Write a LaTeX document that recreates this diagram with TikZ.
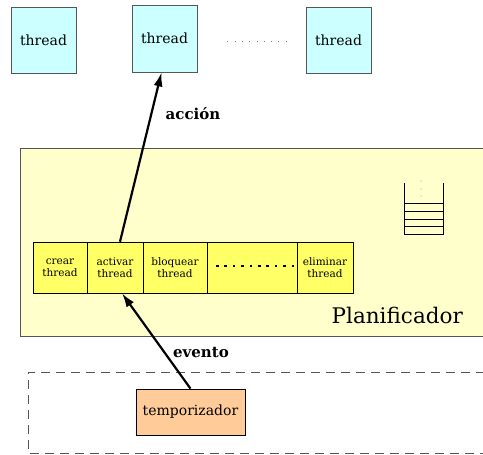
\documentclass[tikz,border=0pt]{standalone}
\usepackage{fontspec}
\setmainfont{DejaVu Serif}
\usetikzlibrary{arrows.meta}
\definecolor{thrcol}{HTML}{CCFFFF}
\definecolor{plancol}{HTML}{FFFFCC}
\definecolor{cellcol}{HTML}{FFFF66}
\definecolor{tempcol}{HTML}{FFCC99}
\definecolor{edgecol}{HTML}{555555}
\begin{document}
\begin{tikzpicture}[x=1pt,y=-1pt,
  threadbox/.style={draw=edgecol,fill=thrcol,line width=0.8pt,minimum width=65pt,minimum height=66pt,inner sep=0pt,font=\fontsize{14}{16}\selectfont},
  cellbox/.style={draw=black,fill=cellcol,line width=0.6pt,minimum height=51pt,inner sep=0pt,align=center,font=\fontsize{10.5}{12}\selectfont},
  flow/.style={line width=2.2pt,-{Latex[length=14pt,width=9pt]}},
  lbl/.style={font=\bfseries\fontsize{15}{17}\selectfont}]
\useasboundingbox (0,0) rectangle (483,455);
% threads
\node[threadbox] (t1) at (43.5,40) {thread};
\node[threadbox,minimum height=67pt] (t2) at (164.5,38.5) {thread};
\node[threadbox] (t3) at (338.5,40) {thread};
\node[draw=none,inner sep=0pt,minimum width=60pt,minimum height=4pt] (tdots) at (257.5,41) {};
\draw[gray,line width=0.8pt,dash pattern=on 0.8pt off 6.5pt] (tdots.west) -- (tdots.east);
% planificador
\fill[plancol] (20,148) rectangle (485,336);
\draw[edgecol,line width=0.9pt] (485,148) -- (20,148) -- (20,336) -- (485,336);
\node[font=\fontsize{21.5}{24}\selectfont,anchor=east,inner sep=0pt] (plan) at (463,315) {Planificador};
% stack icon
\draw[black,line width=0.8pt] (404,183) -- (404,234) -- (443,234) -- (443,183);
\foreach \yy in {203,211,219,226} \draw[black,line width=0.8pt] (404,\yy) -- (443,\yy);
\foreach \yy in {181,189,196} \fill[gray] (421,\yy) circle (0.5pt);
% table
\node[cellbox,minimum width=54pt] (c1) at (60,267.5) {crear\\thread};
\node[cellbox,minimum width=56pt] (c2) at (115,267.5) {activar\\thread};
\node[cellbox,minimum width=64pt] (c3) at (175,267.5) {bloquear\\thread};
\node[cellbox,minimum width=90pt] (c4) at (252,267.5) {};
\node[cellbox,minimum width=56pt] (c5) at (325,267.5) {eliminar\\thread};
\draw[black,line width=2.6pt,dash pattern=on 2.6pt off 5.8pt] ([xshift=-36pt,yshift=1.5pt]c4.center) -- ([xshift=42pt,yshift=1.5pt]c4.center);
% dashed box
\draw[edgecol,line width=1pt,dash pattern=on 9pt off 6pt] (485,372) -- (28,372) -- (28,453) -- (485,453);
\node[draw=black,fill=tempcol,line width=0.7pt,minimum width=109pt,minimum height=46pt,inner sep=0pt,font=\fontsize{14}{16}\selectfont] (temp) at (190.5,412) {temporizador};
% arrows
\draw[flow] ([xshift=5pt]c2.north) -- ([xshift=-3pt]t2.south);
\node[lbl] (accion) at (193,114) {acción};
\draw[flow] (temp.north) -- ([xshift=7pt]c2.south);
\node[lbl] (evento) at (201,353) {evento};
\end{tikzpicture}
\end{document}
